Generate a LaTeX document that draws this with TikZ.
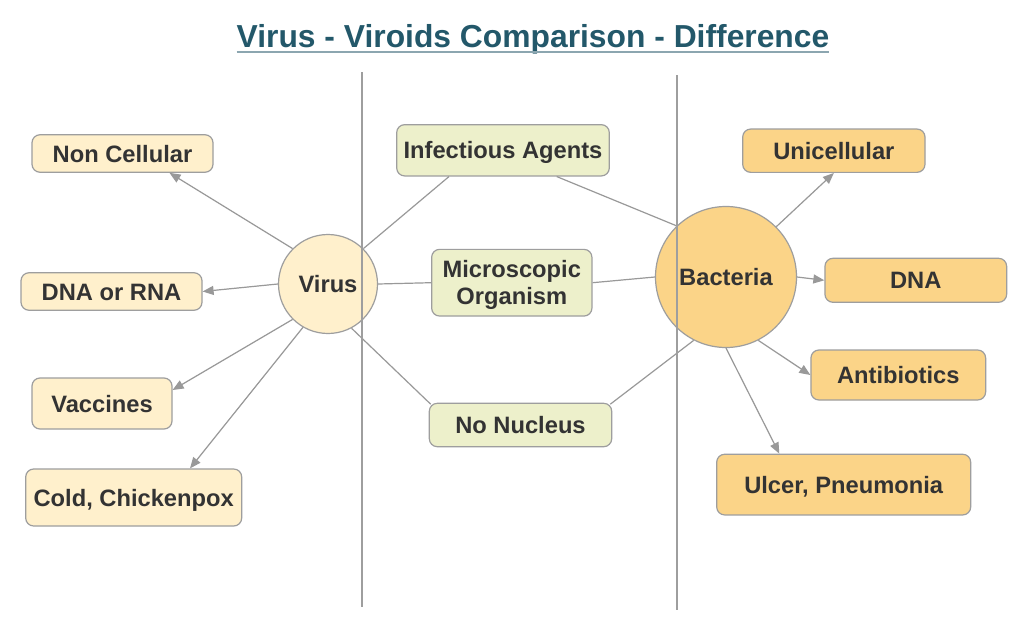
\documentclass[tikz,border=0pt]{standalone}
\usepackage{fontspec}
\setmainfont{Liberation Sans}
\usetikzlibrary{arrows.meta}
\definecolor{cream}{HTML}{FFF0CC}
\definecolor{paleg}{HTML}{EDF0CB}
\definecolor{orng}{HTML}{FBD488}
\definecolor{edgegray}{HTML}{9E9E9E}
\definecolor{linegray}{HTML}{999999}
\definecolor{txt}{HTML}{333333}
\definecolor{titlecol}{HTML}{23586A}
\definecolor{ulcol}{HTML}{8CA6B0}
\tikzset{
  box/.style={draw=edgegray, line width=1.2pt, rounded corners=8pt, inner sep=0pt,
    text=txt, font=\fontsize{23.7}{27}\selectfont\bfseries, align=center,
    text height=17pt, text depth=0pt},
  bubble/.style={circle, draw=edgegray, line width=1.2pt, inner sep=0pt,
    text=txt, font=\fontsize{23.7}{27}\selectfont\bfseries,
    text height=17pt, text depth=0pt},
  conn/.style={draw=linegray, line width=1.2pt},
  arr/.style={conn, -{Triangle[length=11pt,width=9pt]}, fill=linegray},
  divider/.style={draw=edgegray, line width=1.2pt},
}
\begin{document}
\begin{tikzpicture}[x=1pt,y=-1pt]
\useasboundingbox (0,0) rectangle (1021,629);
\fill[white] (0,0) rectangle (1021,629);

% title
\node[inner sep=0pt, anchor=base, text=titlecol, font=\fontsize{31.8}{35}\selectfont\bfseries] (title) at (533,47.3) {Virus - Viroids Comparison - Difference};
\draw[ulcol, line width=2pt] ([yshift=-4.3pt]title.base west) -- ([yshift=-4.3pt]title.base east);

% circles
\node[bubble, fill=cream, minimum size=99pt] (virus) at (328,284) {Virus};
\node[bubble, fill=orng, minimum size=141pt] (bact) at (726,277) {Bacteria};

% left boxes
\node[box, fill=cream, minimum width=181pt, minimum height=37.5pt] (nc) at (122.5,153.5) {Non Cellular};
\node[box, fill=cream, minimum width=181pt, minimum height=37.5pt] (dnarna) at (111.5,291.5) {DNA or RNA};
\node[box, fill=cream, minimum width=140pt, minimum height=51pt] (vac) at (102,403.5) {Vaccines};
\node[box, fill=cream, minimum width=216pt, minimum height=57pt] (cold) at (133.7,497.5) {Cold, Chickenpox};

% middle boxes
\node[box, fill=paleg, minimum width=212.6pt, minimum height=51.3pt] (inf) at (503,150.3) {Infectious Agents};
\node[box, fill=paleg, minimum width=160.3pt, minimum height=66.7pt, text height=44pt, text depth=1.4pt] (mic) at (511.8,282.7) {Microscopic\\Organism};
\node[box, fill=paleg, minimum width=182.4pt, minimum height=43.4pt] (nn) at (520.5,425) {No Nucleus};

% right boxes
\node[box, fill=orng, minimum width=182.3pt, minimum height=43.3pt] (uni) at (833.85,150.7) {Unicellular};
\node[box, fill=orng, minimum width=181.7pt, minimum height=44pt] (dna) at (915.8,280.3) {DNA};
\node[box, fill=orng, minimum width=174.7pt, minimum height=50pt] (anti) at (898.3,375) {Antibiotics};
\node[box, fill=orng, minimum width=254pt, minimum height=60.7pt] (ulc) at (843.7,484.6) {Ulcer, Pneumonia};

% virus connectors
\draw[arr] (virus.135) -- ([xshift=47pt]nc.south);
\draw[arr] (virus.west) -- (dnarna.east);
\draw[arr] (virus.-135) -- ([yshift=13.5pt]vac.east);
\draw[arr] (virus.-120) -- ([xshift=56.3pt]cold.north);
\draw[conn] (virus.45) -- ([xshift=-54pt]inf.south);
\draw[conn] (virus.east) -- (mic.west);
\draw[conn] (virus.-62) -- ([xshift=2pt,yshift=-1.5pt]nn.north west);

% bacteria connectors
\draw[conn] ([xshift=53.7pt]inf.south) -- (bact.134);
\draw[conn] (mic.east) -- (bact.west);
\draw[conn] ([xshift=-2pt,yshift=-1.5pt]nn.north east) -- (bact.-117);
\draw[arr] (bact.45) -- (uni.south);
\draw[arr] (bact.east) -- (dna.west);
\draw[arr] (bact.-63) -- (anti.west);
\draw[arr] (bact.south) -- ([xshift=-64.4pt]ulc.north);

% dividers
\coordinate (d1t) at (362,72);
\coordinate (d1b) at (362,607);
\coordinate (d2t) at (677,75);
\coordinate (d2b) at (677,610);
\draw[divider] (d1t) -- (d1b);
\draw[divider] (d2t) -- (d2b);
\end{tikzpicture}
\end{document}
